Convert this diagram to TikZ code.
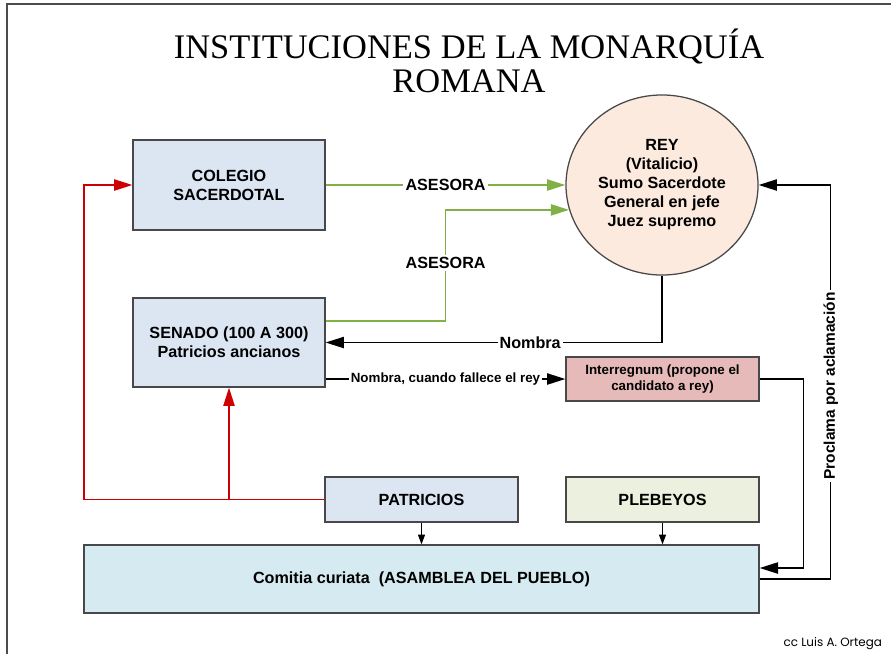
\documentclass[tikz,border=0pt]{standalone}
\usepackage{fontspec}
\setmainfont{Liberation Sans}
\newfontfamily\titlefont{Liberation Serif}
\newfontfamily\ccfont{Poppins}
\usepackage{tikz}
\usetikzlibrary{arrows.meta,shapes.geometric,calc,positioning}
\definecolor{boxblue}{RGB}{220,230,243}
\definecolor{boxgreen}{RGB}{235,241,222}
\definecolor{boxcyan}{RGB}{214,235,241}
\definecolor{boxpink}{RGB}{230,186,185}
\definecolor{reyfill}{RGB}{252,234,222}
\definecolor{lineG}{RGB}{128,176,70}
\definecolor{lineR}{RGB}{204,0,0}
\definecolor{edgegray}{RGB}{72,72,72}
\tikzstyle{Ibox}=[draw=edgegray,line width=0.9pt,align=center,inner sep=0pt,font=\bfseries\fontsize{11.5}{13.5}\selectfont]
\tikzstyle{Isml}=[font=\bfseries\fontsize{9.5}{11.3}\selectfont]
\tikzstyle{Ilab}=[fill=white,inner sep=1.5pt,font=\bfseries\fontsize{11.5}{13.5}\selectfont]
\tikzstyle{aG}=[draw=lineG,line width=1.1pt,-{Triangle[length=13pt,width=8pt]}]
\tikzstyle{aR}=[draw=lineR,line width=1.1pt,-{Triangle[length=13pt,width=8pt]}]
\tikzstyle{aK}=[draw=black,line width=1pt,-{Triangle[length=13pt,width=8pt]}]
\tikzstyle{aS}=[draw=black,line width=0.8pt,-{Triangle[length=7pt,width=5pt]}]
\begin{document}
\begin{tikzpicture}[x=0.025cm,y=-0.025cm]
  \useasboundingbox (0,0) rectangle (891,654);
  \draw[gray!60!black,line width=1pt] (7,654) -- (7,4) -- (891,4);
  \node[anchor=base,font=\titlefont\fontsize{24.5}{29}\selectfont] (tit) at (469,58) {INSTITUCIONES DE LA MONARQUÍA};
  \node[anchor=base,font=\titlefont\fontsize{24.5}{29}\selectfont] (tit2) at (469,92) {ROMANA};
  \node[Ibox,fill=boxblue,minimum width=4.8cm,minimum height=2.25cm] (col) at (229,185) {COLEGIO\\SACERDOTAL};
  \node[Ibox,fill=boxblue,minimum width=4.8cm,minimum height=2.225cm] (sen) at (229,342.5) {SENADO (100 A 300)\\Patricios ancianos};
  \node[Ibox,ellipse,fill=reyfill,minimum width=4.8cm,minimum height=4.5cm] (rey) at (662,185) {REY\\(Vitalicio)\\Sumo Sacerdote\\General en jefe\\Juez supremo};
  \node[Ibox,Isml,fill=boxpink,minimum width=4.825cm,minimum height=1.1cm] (inter) at (662.5,379) {Interregnum (propone el\\candidato a rey)};
  \node[Ibox,fill=boxblue,minimum width=4.825cm,minimum height=1.125cm] (pat) at (421.5,499.5) {PATRICIOS};
  \node[Ibox,fill=boxgreen,minimum width=4.825cm,minimum height=1.125cm] (ple) at (662.5,499.5) {PLEBEYOS};
  \node[Ibox,fill=boxcyan,minimum width=16.875cm,minimum height=1.7cm] (com) at (421.5,579) {Comitia curiata\ \ (ASAMBLEA DEL PUEBLO)};
  \node[anchor=base east,font=\ccfont\fontsize{8.5}{10}\selectfont] (cc) at (887,646) {cc Luis A. Ortega};
  \coordinate (rc) at (84,185);
  \draw[aG] (col.east) -- node[Ilab] {ASESORA} (rey.west);
  \draw[aG] ($(sen.east)+(0,-21.5)$) -- ++(120,0) |- node[Ilab,pos=0.26] {ASESORA} (rey.195);
  \draw[aK] (rey.south) |- node[Ilab,pos=0.696] {Nombra} (sen.east);
  \draw[aK] (sen.east |- inter.west) -- node[Ilab,Isml] {Nombra, cuando fallece el rey} (inter.west);
  \draw[aK] (inter.east) -| ($(com.east)+(44,-11)$) -- ($(com.east)+(0,-11)$);
  \draw[aK] (com.east) -- ++(71,0) |- node[Ilab,rotate=90,pos=0.245,font=\bfseries\fontsize{11}{13}\selectfont] {Proclama por aclamación} (rey.east);
  \draw[aR] (pat.west) -| (rc) -- (col.west);
  \draw[aR] (sen.south |- pat.west) -- (sen.south);
  \draw[aS] (pat.south) -- (pat.south |- com.north);
  \draw[aS] (ple.south) -- (ple.south |- com.north);
\end{tikzpicture}
\end{document}
